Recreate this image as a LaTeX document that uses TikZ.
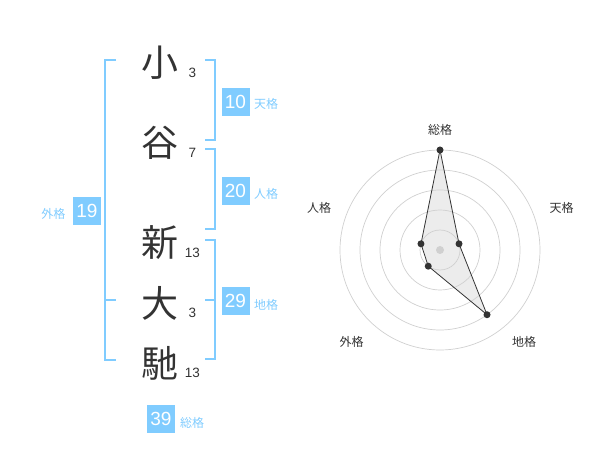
\documentclass[tikz,border=0pt]{standalone}
\usepackage{fontspec}
\setmainfont{Noto Sans CJK JP}
\newfontfamily\digitfont{Liberation Sans}
\definecolor{sky}{RGB}{128,204,255}
\definecolor{ink}{RGB}{51,51,51}
\definecolor{ring}{RGB}{208,208,208}
\definecolor{area}{RGB}{236,236,236}
\begin{document}
\begin{tikzpicture}[x=1pt,y=-1pt,
  kanji/.style={text=ink,font=\fontsize{37}{37}\selectfont,inner sep=0},
  strokes/.style={text=ink,font=\digitfont\fontsize{13.5}{13.5}\selectfont,inner sep=0},
  bracket/.style={draw=sky,line width=2pt},
  numbox/.style={fill=sky,text=white,minimum width=28pt,minimum height=28pt,inner sep=0,font=\digitfont\fontsize{19}{19}\selectfont},
  kaku/.style={text=sky,font=\fontsize{12}{12}\selectfont,inner sep=0},
  axislabel/.style={text=ink,font=\fontsize{12}{12}\selectfont,inner sep=0},
  ringline/.style={draw=ring,line width=0.7pt},
  vertex/.style={circle,fill=ink,inner sep=0,minimum size=7pt},
]
\useasboundingbox (0,0) rectangle (600,470);
% name characters
\node[kanji] (c1) at (160,63) {小};
\node[kanji] (c2) at (160,143) {谷};
\node[kanji] (c3) at (160,243) {新};
\node[kanji] (c4) at (160,303) {大};
\node[kanji] (c5) at (160,363) {馳};
\node[strokes] (s1) at (192.5,73) {3};
\node[strokes] (s2) at (192.5,153) {7};
\node[strokes] (s3) at (192.5,252.5) {13};
\node[strokes] (s4) at (192.5,313) {3};
\node[strokes] (s5) at (192.5,372.5) {13};
% brackets
\draw[bracket] (116,60) -- (105,60) -- (105,360) -- (116,360);
\draw[bracket] (105,300) -- (116,300);
\draw[bracket] (205,60) -- (215,60) -- (215,140) -- (205,140);
\draw[bracket] (205,149) -- (215,149) -- (215,229) -- (205,229);
\draw[bracket] (205,240) -- (215,240) -- (215,359.5) -- (205,359.5);
\draw[bracket] (205,300) -- (215,300);
% boxes
\node[numbox] (ten) at (235.5,102) {10};
\node[kaku] (tenl) at (266,104) {天格};
\node[numbox] (jin) at (235.5,191) {20};
\node[kaku] (jinl) at (266,194) {人格};
\node[numbox] (gai) at (87,211) {19};
\node[kaku] (gail) at (53.5,214) {外格};
\node[numbox] (chi) at (235.5,301) {29};
\node[kaku] (chil) at (266,305) {地格};
\node[numbox] (sou) at (161,419) {39};
\node[kaku] (soul) at (192,422.5) {総格};
% radar chart
\begin{scope}[shift={(440,250)},yscale=-1]
  \coordinate (o) at (0,0);
  \coordinate (pS) at (90:100);
  \coordinate (pT) at (18:20);
  \coordinate (pC) at (-54:80);
  \coordinate (pG) at (234:20);
  \coordinate (pJ) at (162:20);
  \fill[area] (pS) -- (pT) -- (pC) -- (pG) -- (pJ) -- cycle;
  \foreach \r in {20,40,60,80,100} \draw[ringline] (o) circle[radius=\r];
  \fill[ring] (o) circle[radius=4];
  \draw[ink,line width=0.8pt] (pS) -- (pT) -- (pC) -- (pG) -- (pJ) -- cycle;
  \foreach \p in {pS,pT,pC,pG,pJ} \node[vertex] at (\p) {};
  \node[axislabel] (lS) at (0,120) {総格};
  \node[axislabel] (lT) at (121.5,42) {天格};
  \node[axislabel] (lJ) at (-121,42) {人格};
  \node[axislabel] (lG) at (-88.5,-92) {外格};
  \node[axislabel] (lC) at (84,-92) {地格};
\end{scope}
\end{tikzpicture}
\end{document}
